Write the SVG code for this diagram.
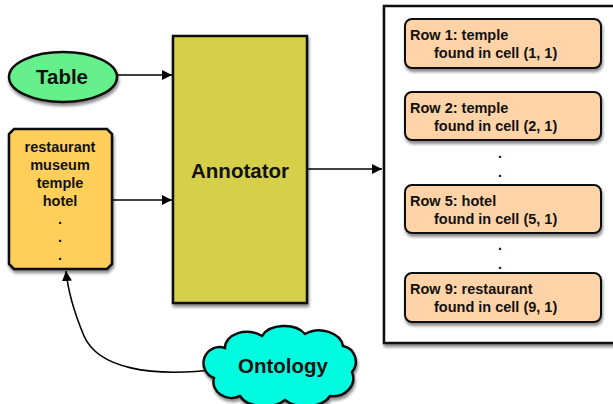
<svg xmlns="http://www.w3.org/2000/svg" width="613" height="404" viewBox="0 0 613 404">
<defs>
<filter id="sh" x="-10%" y="-10%" width="130%" height="130%">
<feGaussianBlur in="SourceAlpha" stdDeviation="1.5"/>
<feOffset dx="1" dy="3" result="b"/>
<feComponentTransfer><feFuncA type="linear" slope="0.45"/></feComponentTransfer>
<feMerge><feMergeNode/><feMergeNode in="SourceGraphic"/></feMerge>
</filter>
<marker id="ah" viewBox="0 0 10 10" refX="10" refY="5" markerWidth="10" markerHeight="10" markerUnits="userSpaceOnUse" orient="auto">
<path d="M0,0 L10,5 L0,10 z" fill="#000"/>
</marker>
</defs>
<style>
text{font-family:"Liberation Sans",Arial,sans-serif;font-weight:bold;fill:#111}
.big{font-size:20.5px}
.sm{font-size:14.5px}
.shape{stroke:#111;stroke-width:2.5;filter:url(#sh)}
.row{fill:#ffd3a8;stroke:#111;stroke-width:2;filter:url(#sh)}
.conn{fill:none;stroke:#000;stroke-width:1.6;marker-end:url(#ah)}
</style>
<rect width="613" height="404" fill="#fff"/>
<g id="connectors">
<line class="conn" x1="117" y1="75" x2="172" y2="75"/>
<line class="conn" x1="112" y1="200" x2="172" y2="200"/>
<line class="conn" x1="307" y1="169" x2="382" y2="169"/>
<path class="conn" d="M219,369 C150,378 98,368 84,336 C74,312 68,292 66,271"/>
</g>
<g id="table">
<ellipse class="shape" cx="63" cy="77" rx="54" ry="25" fill="#66f08c"/>
<text class="big" x="62" y="84" text-anchor="middle">Table</text>
</g>
<g id="list">
<path class="shape" fill="#ffcf5a" d="M14,129 L107,129 L112,134 L112,264 L107,269 L14,269 L9,264 L9,134 Z"/>
<g class="sm" text-anchor="middle">
<text x="60" y="152">restaurant</text>
<text x="60" y="170">museum</text>
<text x="60" y="188">temple</text>
<text x="60" y="206">hotel</text>
<text x="60" y="224">.</text>
<text x="60" y="242">.</text>
<text x="60" y="260">.</text>
</g>
</g>
<g id="annotator">
<rect class="shape" x="173" y="36" width="134" height="267" fill="#d5cf48"/>
<text class="big" x="240" y="178" text-anchor="middle">Annotator</text>
</g>
<g id="ontology">
<path class="shape" fill="#00fce0" d="M225,348 A22,16 0 0 1 262,336 A24,16 0 0 1 305,334 A24,18 0 0 1 343,346 A16,16 0 0 1 352,372 A20,18 0 0 1 330,396 A26,16 0 0 1 285,400 A26,16 0 0 1 240,396 A18,16 0 0 1 214,378 A14,14 0 0 1 225,348 Z"/>
<text class="big" x="283" y="373" text-anchor="middle">Ontology</text>
</g>
<g id="results">
<rect class="shape" x="384" y="6" width="240" height="337" fill="#fff" stroke-width="2"/>
<g id="row1">
<rect class="row" x="405" y="19" width="196" height="49" rx="7"/>
<text class="sm" x="410" y="40">Row 1: temple</text>
<text class="sm" x="434" y="58">found in cell (1, 1)</text>
</g>
<g id="row2">
<rect class="row" x="405" y="92" width="196" height="48" rx="7"/>
<text class="sm" x="410" y="113">Row 2: temple</text>
<text class="sm" x="434" y="131">found in cell (2, 1)</text>
</g>
<text class="sm" x="500" y="158" text-anchor="middle">.</text>
<text class="sm" x="500" y="177" text-anchor="middle">.</text>
<g id="row5">
<rect class="row" x="405" y="185" width="196" height="48" rx="7"/>
<text class="sm" x="410" y="206">Row 5: hotel</text>
<text class="sm" x="434" y="224">found in cell (5, 1)</text>
</g>
<text class="sm" x="500" y="250" text-anchor="middle">.</text>
<text class="sm" x="500" y="269" text-anchor="middle">.</text>
<g id="row9">
<rect class="row" x="405" y="273" width="196" height="49" rx="7"/>
<text class="sm" x="410" y="294">Row 9: restaurant</text>
<text class="sm" x="434" y="312">found in cell (9, 1)</text>
</g>
</g>
</svg>
